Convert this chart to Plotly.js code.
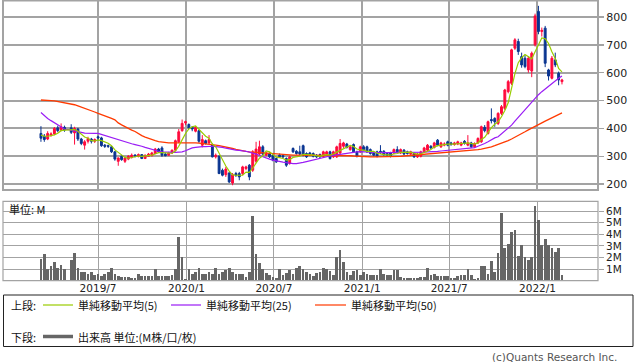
<!DOCTYPE html>
<html><head><meta charset="utf-8">
<script src="https://cdn.plot.ly/plotly-3.0.1.min.js"></script>
<style>html,body{margin:0;padding:0;background:#fff}#chart{width:638px;height:362px}</style>
</head><body><div id="chart"></div>
<script>
// Weekly dates (Monday of each week); week of 2019-04-29 had no trading
const dates = [
'2019-03-04','2019-03-11','2019-03-18','2019-03-25','2019-04-01','2019-04-08','2019-04-15','2019-04-22',
'2019-05-06','2019-05-13','2019-05-20','2019-05-27','2019-06-03','2019-06-10','2019-06-17','2019-06-24',
'2019-07-01','2019-07-08','2019-07-15','2019-07-22','2019-07-29','2019-08-05','2019-08-12','2019-08-19','2019-08-26',
'2019-09-02','2019-09-09','2019-09-16','2019-09-23','2019-09-30','2019-10-07','2019-10-14','2019-10-21','2019-10-28',
'2019-11-04','2019-11-11','2019-11-18','2019-11-25','2019-12-02','2019-12-09','2019-12-16','2019-12-23','2019-12-30',
'2020-01-06','2020-01-13','2020-01-20','2020-01-27','2020-02-03','2020-02-10','2020-02-17','2020-02-24',
'2020-03-02','2020-03-09','2020-03-16','2020-03-23','2020-03-30','2020-04-06','2020-04-13','2020-04-20','2020-04-27',
'2020-05-04','2020-05-11','2020-05-18','2020-05-25','2020-06-01','2020-06-08','2020-06-15','2020-06-22','2020-06-29',
'2020-07-06','2020-07-13','2020-07-20','2020-07-27','2020-08-03','2020-08-10','2020-08-17','2020-08-24','2020-08-31',
'2020-09-07','2020-09-14','2020-09-21','2020-09-28','2020-10-05','2020-10-12','2020-10-19','2020-10-26',
'2020-11-02','2020-11-09','2020-11-16','2020-11-23','2020-11-30','2020-12-07','2020-12-14','2020-12-21','2020-12-28',
'2021-01-04','2021-01-11','2021-01-18','2021-01-25','2021-02-01','2021-02-08','2021-02-15','2021-02-22',
'2021-03-01','2021-03-08','2021-03-15','2021-03-22','2021-03-29','2021-04-05','2021-04-12','2021-04-19','2021-04-26',
'2021-05-03','2021-05-10','2021-05-17','2021-05-24','2021-05-31','2021-06-07','2021-06-14','2021-06-21','2021-06-28',
'2021-07-05','2021-07-12','2021-07-19','2021-07-26','2021-08-02','2021-08-09','2021-08-16','2021-08-23','2021-08-30',
'2021-09-06','2021-09-13','2021-09-20','2021-09-27','2021-10-04','2021-10-11','2021-10-18','2021-10-25',
'2021-11-01','2021-11-08','2021-11-15','2021-11-22','2021-11-29','2021-12-06','2021-12-13','2021-12-20','2021-12-27',
'2022-01-03','2022-01-10','2022-01-17','2022-01-24','2022-01-31','2022-02-07','2022-02-14','2022-02-21'];

const openP = [382,372,362,376,380,402,394,404,
402,384,398,362,340,354,362,354,370,366,340,338,334,316,282,300,282,290,296,304,300,306,292,300,302,310,326,330,308,304,312,322,352,392,420,
414,404,390,392,340,356,348,342,298,300,250,234,240,204,238,238,238,256,268,250,282,308,334,304,310,304,292,304,302,292,274,328,318,316,338,310,312,310,304,306,300,308,316,298,298,312,336,344,324,342,316,316,334,
334,324,312,316,318,318,310,312,312,324,312,322,316,308,310,298,300,316,322,336,332,358,334,340,352,348,342,344,340,354,340,348,334,348,352,404,382,432,436,418,454,472,532,562,688,712,658,652,610,606,700,
820,748,760,610,580,646,598,568];
const highP = [408,380,390,386,405,410,418,410,
415,406,402,366,358,370,366,364,374,370,344,342,336,318,296,304,298,304,310,308,310,308,306,312,316,330,330,336,314,316,324,360,398,432,428,
418,408,408,396,376,360,376,346,310,304,256,262,244,240,244,244,266,266,272,322,352,356,340,316,314,306,296,310,306,296,302,332,322,338,342,314,316,314,308,310,320,320,320,320,338,362,352,348,338,346,320,338,
340,338,328,316,320,340,322,314,316,328,336,328,326,320,320,314,312,320,334,344,340,352,362,352,350,356,352,352,356,352,358,376,352,350,368,410,412,428,472,440,458,484,542,574,686,724,722,672,664,660,676,812,
840,762,768,614,660,672,604,578];
const lowP = [352,352,358,370,376,386,390,388,
380,342,355,340,324,346,346,348,356,334,330,330,312,284,266,284,276,286,292,296,296,290,290,298,300,308,312,298,300,302,308,318,348,388,412,
398,390,386,348,332,342,344,296,292,236,228,226,204,196,226,214,232,250,214,244,276,304,304,300,294,282,276,294,294,262,270,312,306,304,300,294,304,296,294,294,296,304,288,294,294,308,330,328,320,312,296,312,
320,312,306,300,296,308,302,300,296,308,312,308,304,306,304,294,294,296,312,318,326,328,336,330,336,336,338,338,340,336,342,336,330,330,344,348,386,378,418,406,412,448,466,526,556,682,664,618,616,600,584,694,
738,730,620,572,576,620,555,558];
const closeP = [365,360,382,380,400,392,406,394,
386,400,362,346,352,364,354,360,366,338,336,336,316,290,294,288,294,300,304,300,306,292,304,308,312,326,316,304,302,312,322,356,388,418,424,
402,398,404,354,360,346,360,298,304,238,232,254,208,234,232,226,262,262,226,316,326,334,308,312,298,286,280,298,298,268,298,316,310,308,304,298,308,300,298,298,316,316,292,316,334,346,348,332,334,316,300,334,
324,316,310,304,300,312,306,304,300,324,316,324,308,310,316,298,306,316,330,340,330,348,340,348,344,340,342,348,352,348,346,348,334,346,364,406,392,424,428,424,454,478,538,568,682,718,676,628,622,652,670,804,
748,752,634,588,652,628,574,574];

// Moving averages
const ma5 = [376,372,372,374,377,383,392,394,
396,396,390,378,369,365,356,355,359,356,351,347,338,323,314,305,296,293,296,297,301,300,301,302,304,308,313,313,312,312,311,319,336,359,382,
398,406,409,396,384,372,365,344,334,309,286,265,247,233,232,231,232,243,242,258,278,293,302,319,316,308,297,295,292,286,288,296,298,300,307,307,306,304,302,300,304,306,304,308,315,321,327,335,339,335,326,323,
322,318,317,318,311,308,306,305,304,309,310,314,314,316,315,311,308,309,313,318,324,333,338,341,342,344,343,344,345,346,347,348,346,344,348,360,368,386,403,415,424,442,464,492,544,597,636,654,665,659,650,675,
699,725,722,705,675,651,615,603];
const ma25 = [457,446,436,428,420,412,404,398,
394,392,390,386,383,382,382,382,382,378,375,371,368,364,360,356,352,348,345,342,340,336,332,328,325,322,318,316,315,314,314,314,315,316,320,
325,330,332,334,335,335,336,336,335,334,332,329,326,324,322,321,320,318,315,312,308,303,298,293,290,286,283,281,279,277,275,274,274,275,278,281,284,287,290,294,297,299,301,303,305,307,310,312,314,316,316,317,
317,316,315,314,313,313,313,313,313,313,313,314,314,314,314,314,314,315,315,316,316,317,318,319,320,321,322,323,324,325,326,327,329,331,336,340,346,352,360,366,370,380,390,400,412,426,440,454,468,482,496,510,
521,532,542,552,562,572,580,588];
const ma50 = [502,502,501,500,499,497,495,492,
489,485,481,477,472,468,463,459,454,450,445,440,436,431,420,413,406,400,394,389,380,374,369,364,360,356,353,351,349,348,348,348,349,350,350,
350,349,348,347,346,345,344,342,340,338,336,333,330,328,325,322,320,318,316,315,313,312,311,310,309,308,307,307,306,305,305,304,304,304,304,304,304,304,304,304,304,304,303,303,303,303,303,302,302,301,300,300,
299,298,298,298,298,298,298,298,299,299,300,300,301,302,303,304,305,306,307,308,309,310,311,312,312,313,314,315,316,317,318,319,320,322,324,326,328,331,334,338,342,346,351,356,362,368,374,381,388,395,402,408,
414,420,426,432,438,444,450,456];

// Volume, millions of shares
const volume = [1.9,2.3,1.0,1.3,1.6,1.1,1.35,1.0,
1.75,2.35,1.1,0.75,0.75,0.6,0.72,0.45,0.6,0.4,0.55,0.75,1.05,0.6,0.4,0.32,0.32,0.32,0.25,0.2,0.55,0.38,0.38,0.38,0.38,1.0,0.4,0.4,0.4,0.4,0.45,1.0,3.8,2.0,0.1,
1.0,0.6,0.75,1.05,0.55,0.6,0.75,0.6,1.05,0.6,0.75,0.9,1.1,0.75,0.55,0.55,0.55,0.3,0.75,5.55,2.3,1.5,1.0,0.65,0.5,0.3,0.25,1.0,0.45,0.65,0.95,0.55,1.07,1.3,1.0,0.72,0.55,0.43,0.64,0.72,1.13,1.0,0.85,0.45,2.0,2.6,1.6,0.75,0.45,0.85,0.9,0.45,
0.75,0.55,0.45,0.45,0.45,1.0,0.55,0.5,0.5,0.95,0.95,0.3,0.26,0.26,0.2,0.26,0.2,0.3,0.35,1.1,0.5,0.6,0.4,0.4,0.4,0.4,0.26,0.26,0.4,0.5,0.45,1.0,0.45,0.15,0.25,1.25,1.25,0.6,1.7,0.75,2.4,5.85,2.85,3.2,4.2,4.4,2.15,3.1,2.0,1.8,2.0,6.4,
5.2,3.1,3.55,3.1,2.8,2.45,2.85,0.45];

const xTickVals = ['2019-07-01','2020-01-01','2020-07-01','2021-01-01','2021-07-01','2022-01-01'];
const xTickText = ['2019/7','2020/1','2020/7','2021/1','2021/7','2022/1'];
const priceTicks = [200,300,400,500,600,700,800];
const volTicks = [1,2,3,4,5,6];
const volTickText = ['1M','2M','3M','4M','5M','6M'];
const legendLabels = ['単純移動平均(5)','単純移動平均(25)','単純移動平均(50)'];

const W = 638, H = 362;
const px = v => v / W, py = v => 1 - v / H;
const RED = '#ff0a3c', BLUE = '#0a3591';
const C5 = '#99cc00', C25 = '#9a1cf5', C50 = '#ff3a00';
const GRID = '#a3a3a3';
const XR = ['2018-12-15', '2022-05-07'];
const tickFont = {family: 'DejaVu Sans, Verdana, sans-serif', size: 10.5, color: '#222'};
const jp = 'Noto Sans CJK JP, sans-serif';

const traces = [
  {type: 'candlestick', x: dates, open: openP, high: highP, low: lowP, close: closeP,
   xaxis: 'x', yaxis: 'y', whiskerwidth: 0, hoverinfo: 'skip',
   increasing: {line: {color: RED, width: 1}, fillcolor: RED},
   decreasing: {line: {color: BLUE, width: 1}, fillcolor: BLUE}},
  {type: 'scatter', mode: 'lines', x: dates, y: ma50, line: {color: C50, width: 1.3}, xaxis: 'x', yaxis: 'y', hoverinfo: 'skip'},
  {type: 'scatter', mode: 'lines', x: dates, y: ma25, line: {color: C25, width: 1.2}, xaxis: 'x', yaxis: 'y', hoverinfo: 'skip'},
  {type: 'scatter', mode: 'lines', x: dates, y: ma5, line: {color: C5, width: 1.2}, xaxis: 'x', yaxis: 'y', hoverinfo: 'skip'},
  {type: 'bar', x: dates, y: volume, marker: {color: '#666666', line: {width: 0}}, width: 0.8 * 7 * 86400000,
   xaxis: 'x2', yaxis: 'y2', hoverinfo: 'skip'}
];

const frame = (x0, y0, x1, y1, color, w) => ({type: 'rect', xref: 'paper', yref: 'paper',
  x0: px(x0), x1: px(x1), y0: py(y1), y1: py(y0), line: {color: color, width: w}, fillcolor: 'rgba(0,0,0,0)'});
const hline = (x0, x1, y, color, w) => ({type: 'line', xref: 'paper', yref: 'paper',
  x0: px(x0), x1: px(x1), y0: py(y), y1: py(y), line: {color: color, width: w}});
const txt = (x, y, s, opts) => Object.assign({xref: 'paper', yref: 'paper', x: px(x), y: py(y), text: s,
  showarrow: false, xanchor: 'left', yanchor: 'middle', font: {family: jp, size: 11, color: '#111'}}, opts || {});

const layout = {
  width: W, height: H, margin: {l: 0, r: 0, t: 0, b: 0},
  paper_bgcolor: '#ffffff', plot_bgcolor: '#ffffff', showlegend: false, boxgap: 0.2, bargap: 0,
  xaxis: {domain: [px(3), px(598)], type: 'date', range: XR, tickvals: xTickVals, showticklabels: false,
    showgrid: true, gridcolor: GRID, gridwidth: 2, zeroline: false, showline: false, anchor: 'y',
    rangeslider: {visible: false}, fixedrange: true},
  yaxis: {domain: [py(190), 1], range: [179, 861], side: 'right', tickvals: priceTicks,
    ticks: 'outside', ticklen: 5, tickcolor: GRID, tickwidth: 1.5, showgrid: true, gridcolor: GRID, gridwidth: 2,
    zeroline: false, showline: false, tickfont: Object.assign({}, tickFont, {size: 11}), anchor: 'x', fixedrange: true},
  xaxis2: {domain: [px(3), px(598)], type: 'date', range: XR, tickvals: xTickVals, ticktext: xTickText,
    showgrid: true, gridcolor: GRID, gridwidth: 1, zeroline: false, showline: false, ticks: '',
    tickfont: tickFont, anchor: 'y2', fixedrange: true},
  yaxis2: {domain: [py(280.6), py(201.3)], range: [0, 6.84], side: 'right', tickvals: volTicks, ticktext: volTickText,
    ticks: 'outside', ticklen: 5, tickcolor: GRID, showgrid: true, gridcolor: GRID, gridwidth: 1,
    zeroline: false, showline: false, tickfont: tickFont, anchor: 'x2', fixedrange: true},
  shapes: [
    frame(3, 0.5, 598, 190, GRID, 2),
    frame(3, 201.3, 598, 280.6, GRID, 1.2),
    frame(3.5, 295, 633, 346.5, '#222', 1),
    hline(43, 73, 305, C5, 1.2),
    hline(171, 201, 305, C25, 1.2),
    hline(315, 346, 305, C50, 1.2),
    hline(43, 73, 336.5, '#666666', 3.5)
  ],
  annotations: [
    txt(7, 209, '単位: M', {font: {family: jp, size: 11, color: '#111'}}),
    txt(9, 305, '上段:'),
    txt(76, 305, legendLabels[0]),
    txt(204, 305, legendLabels[1]),
    txt(349, 305, legendLabels[2]),
    txt(9, 336.5, '下段:'),
    txt(76, 336.5, '出来高 単位:(M株/口/枚)'),
    txt(619, 356.5, '(c)Quants Research Inc.', {xanchor: 'right',
      font: {family: 'DejaVu Sans, Verdana, sans-serif', size: 10.5, color: '#555'}})
  ]
};

Plotly.newPlot('chart', traces, layout, {staticPlot: true, displayModeBar: false});
</script>
</body></html>
